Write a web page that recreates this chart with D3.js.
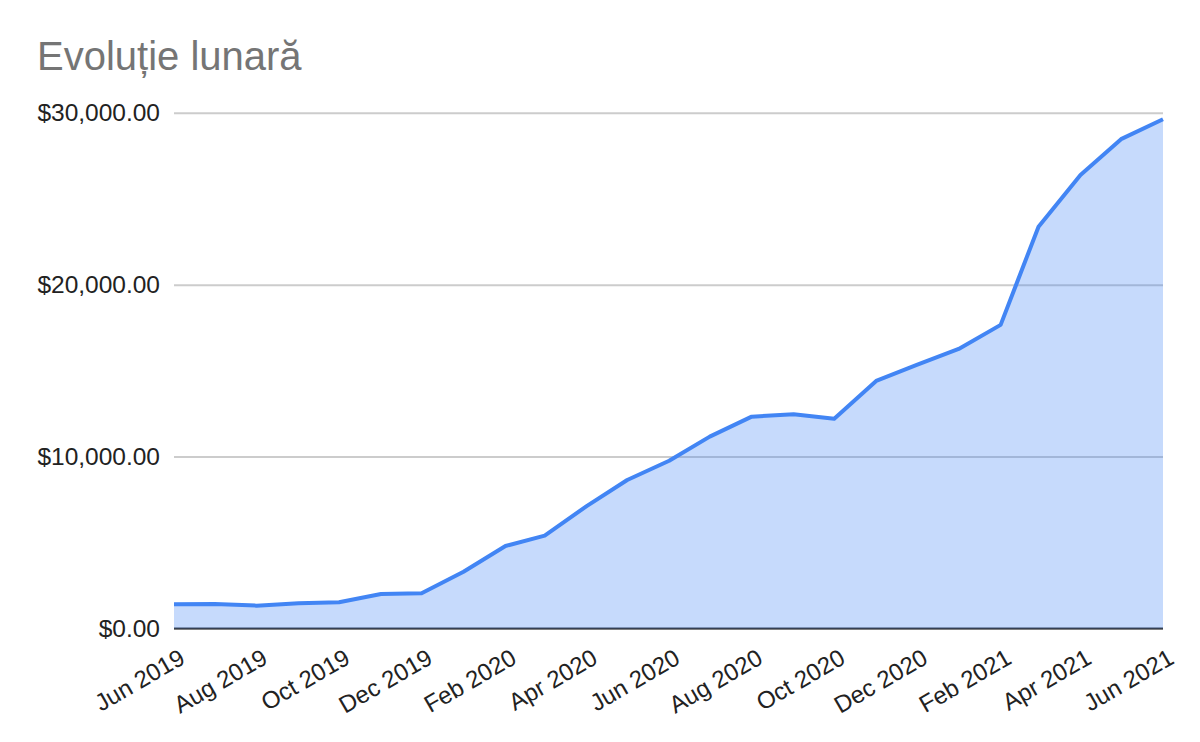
<!DOCTYPE html>
<html>
<head>
<meta charset="utf-8">
<script src="https://cdn.jsdelivr.net/npm/d3@7"></script>
<style>
  body { margin: 0; background: #fff; }
  text { font-family: "Liberation Sans", Arial, sans-serif; }
</style>
</head>
<body>
<div id="chart"></div>
<script>
// monthly data, Jun 2019 .. Jun 2021
var months = ["2019-06","2019-07","2019-08","2019-09","2019-10","2019-11","2019-12",
  "2020-01","2020-02","2020-03","2020-04","2020-05","2020-06","2020-07","2020-08",
  "2020-09","2020-10","2020-11","2020-12","2021-01","2021-02","2021-03","2021-04",
  "2021-05","2021-06"];
var values = [1410, 1425, 1330, 1465, 1525, 2005, 2050,
  3300, 4800, 5400, 7120, 8640, 9760, 11160, 12320,
  12460, 12200, 14400, 15330, 16260, 17660, 23370, 26380,
  28460, 29620];
var yTicks = [0, 10000, 20000, 30000];
var xTickMonths = ["2019-06","2019-08","2019-10","2019-12","2020-02","2020-04","2020-06",
  "2020-08","2020-10","2020-12","2021-02","2021-04","2021-06"];
var title = "Evoluție lunară";

var parse = d3.timeParse("%Y-%m");
var data = months.map(function(m, i){ return {date: parse(m), value: values[i]}; });

var W = 1200, H = 742;
var margin = {left: 174, right: 37, top: 112.7, bottom: 113.5};
var svg = d3.select("#chart").append("svg").attr("width", W).attr("height", H);

var x = d3.scaleTime()
  .domain([data[0].date, data[data.length-1].date])
  .range([margin.left, W - margin.right]);
var y = d3.scaleLinear()
  .domain([0, 30000])
  .range([H - margin.bottom, margin.top]);

// title
svg.append("text")
  .attr("x", 37).attr("y", 70)
  .attr("font-size", 40)
  .attr("fill", "#757575")
  .text(title);

// gridlines + y labels
var yAxis = svg.append("g")
  .attr("transform", "translate(" + margin.left + ",0)")
  .call(d3.axisLeft(y).tickValues(yTicks).tickFormat(d3.format("$,.2f"))
    .tickSize(-(W - margin.left - margin.right)).tickPadding(14));
yAxis.select(".domain").remove();
yAxis.selectAll(".tick line").attr("stroke", "#cccccc").attr("stroke-width", 2);
yAxis.selectAll(".tick text").attr("font-size", 24.5).attr("fill", "#222").attr("font-family", "Liberation Sans, Arial, sans-serif");

// baseline
svg.append("line")
  .attr("x1", margin.left).attr("x2", W - margin.right)
  .attr("y1", y(0)).attr("y2", y(0))
  .attr("stroke", "#333333").attr("stroke-width", 2);

// area
var area = d3.area()
  .x(function(d){ return x(d.date); })
  .y0(y(0))
  .y1(function(d){ return y(d.value); });
svg.append("path")
  .datum(data)
  .attr("d", area)
  .attr("fill", "#4285f4")
  .attr("fill-opacity", 0.3);

// line
var line = d3.line()
  .x(function(d){ return x(d.date); })
  .y(function(d){ return y(d.value); });
svg.append("path")
  .datum(data)
  .attr("d", line)
  .attr("fill", "none")
  .attr("stroke", "#4285f4")
  .attr("stroke-width", 4)
  .attr("stroke-linejoin", "round");

// x labels
var xAxis = svg.append("g")
  .attr("transform", "translate(0," + y(0) + ")")
  .call(d3.axisBottom(x).tickValues(xTickMonths.map(parse))
    .tickFormat(d3.timeFormat("%b %Y")).tickSize(0));
xAxis.select(".domain").remove();
xAxis.selectAll(".tick text")
  .attr("font-size", 24)
  .attr("fill", "#222")
  .attr("font-family", "Liberation Sans, Arial, sans-serif")
  .attr("text-anchor", "end")
  .attr("dy", null)
  .attr("y", null)
  .attr("transform", "translate(12,34) rotate(-30)");
</script>
</body>
</html>
